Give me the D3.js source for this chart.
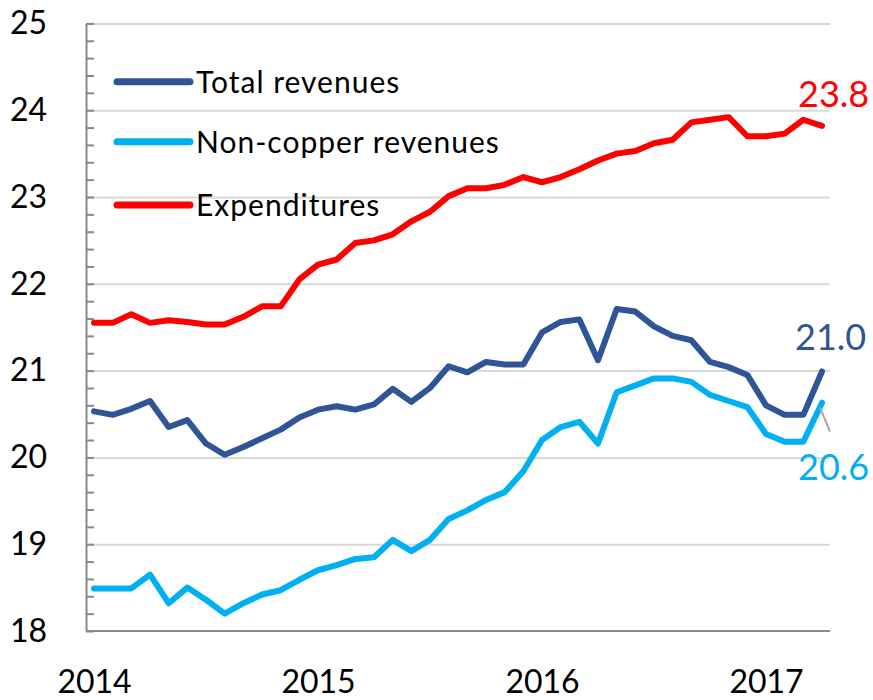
<!DOCTYPE html>
<html>
<head>
<meta charset="utf-8">
<script src="https://cdn.jsdelivr.net/npm/d3@7"></script>
<style>
  body { margin: 0; background: #fff; }
  svg text { font-family: Lato, "Open Sans", sans-serif; fill: #000; }
</style>
</head>
<body>
<div id="viz"></div>
<script>
// monthly, Jan 2014 .. Apr 2017
const months = d3.range(0, 40);
const yearLabels = ["2014", "2015", "2016", "2017"];
const yearTicks = [0, 12, 24, 36];
const yTicks = [18, 19, 20, 21, 22, 23, 24, 25];

const totalRevenues = [20.53, 20.49, 20.56, 20.65, 20.35, 20.43, 20.16, 20.03, 20.12, 20.22,
  20.32, 20.46, 20.55, 20.59, 20.55, 20.61, 20.79, 20.64, 20.80, 21.05,
  20.98, 21.10, 21.07, 21.07, 21.44, 21.56, 21.59, 21.12, 21.71, 21.68,
  21.51, 21.40, 21.35, 21.10, 21.04, 20.95, 20.60, 20.49, 20.49, 20.99];
const nonCopperRevenues = [18.49, 18.49, 18.49, 18.65, 18.32, 18.50, 18.36, 18.20, 18.32, 18.42,
  18.47, 18.59, 18.70, 18.76, 18.83, 18.85, 19.05, 18.92, 19.05, 19.29,
  19.39, 19.51, 19.60, 19.84, 20.20, 20.35, 20.41, 20.16, 20.75, 20.83,
  20.91, 20.91, 20.87, 20.72, 20.65, 20.58, 20.27, 20.18, 20.18, 20.63];
const expenditures = [21.55, 21.55, 21.65, 21.55, 21.58, 21.56, 21.53, 21.53, 21.62, 21.74,
  21.74, 22.05, 22.22, 22.28, 22.47, 22.50, 22.57, 22.72, 22.83, 23.01,
  23.10, 23.10, 23.14, 23.23, 23.17, 23.23, 23.32, 23.42, 23.50, 23.53,
  23.62, 23.66, 23.86, 23.89, 23.92, 23.70, 23.70, 23.73, 23.89, 23.82];

const seriesNames = ["Total revenues", "Non-copper revenues", "Expenditures"];
const seriesColors = ["#2f5597", "#00b0f0", "#ff0000"];
const seriesValues = [totalRevenues, nonCopperRevenues, expenditures];

const width = 873, height = 700;
const plot = {left: 86, right: 830, top: 23.4, bottom: 631};

const svg = d3.select('#viz').append('svg')
    .attr('width', width)
    .attr('height', height);

const x = d3.scaleLinear()
    .domain([0, 39])
    .range([94, 822]);

const y = d3.scaleLinear()
    .domain([18, 25])
    .range([plot.bottom, plot.top]);

// gridlines
svg.append("g")
    .attr("transform", `translate(${plot.left},0)`)
    .call(d3.axisLeft(y).tickValues(yTicks.slice(1)).tickSize(-(plot.right - plot.left)).tickFormat(""))
    .call(g => g.select(".domain").remove())
    .call(g => g.selectAll("line").attr("stroke", "#d9d9d9").attr("stroke-width", 2));

// y axis with minor ticks pointing inward
svg.append("g")
    .attr("transform", `translate(${plot.left},0)`)
    .call(d3.axisLeft(y).tickValues(d3.range(0, 36).map(i => 18 + i * 0.2)).tickSize(-8).tickSizeOuter(0).tickFormat(""))
    .call(g => g.select(".domain").attr("stroke", "#898989").attr("stroke-width", 2))
    .call(g => g.selectAll("line").attr("stroke", "#898989").attr("stroke-width", 2));

svg.append("g")
    .attr("transform", `translate(${plot.left},0)`)
    .call(d3.axisLeft(y).tickValues(yTicks).tickSize(0).tickPadding(39).tickFormat(d3.format("d")))
    .call(g => g.select(".domain").remove())
    .call(g => g.selectAll("text").attr("font-size", 32).attr("font-family", "Lato, sans-serif").attr("fill", "#000"));

// x axis
svg.append("line")
    .attr("x1", plot.left).attr("x2", plot.right)
    .attr("y1", plot.bottom).attr("y2", plot.bottom)
    .attr("stroke", "#898989").attr("stroke-width", 2);

svg.append("g")
    .attr("transform", `translate(0,${plot.bottom})`)
    .call(d3.axisBottom(x).tickValues(yearTicks).tickSize(0).tickPadding(39).tickFormat((d, i) => yearLabels[i]))
    .call(g => g.select(".domain").remove())
    .call(g => g.selectAll("text").attr("font-size", 32).attr("font-family", "Lato, sans-serif").attr("fill", "#000"));

// lines
const line = d3.line()
    .x((d, i) => x(months[i]))
    .y(d => y(d));

svg.append("g")
  .selectAll("path").data(seriesValues).enter().append("path")
    .attr("d", line)
    .attr("fill", "none")
    .attr("stroke", (d, i) => seriesColors[i])
    .attr("stroke-width", 6)
    .attr("stroke-linejoin", "round")
    .attr("stroke-linecap", "round");

// legend
const legend = svg.append("g")
  .selectAll("g").data(seriesNames).enter().append("g")
    .attr("transform", (d, i) => `translate(117,${[81.7, 141.7, 205][i]})`);

legend.append("line")
    .attr("x1", 0).attr("x2", 73)
    .attr("stroke", (d, i) => seriesColors[i])
    .attr("stroke-width", 7)
    .attr("stroke-linecap", "round");

legend.append("text")
    .attr("x", 79)
    .attr("dy", "0.36em")
    .attr("font-size", 30)
    .attr("letter-spacing", 1)
    .text(d => d);

// end labels
const last = 39;
const endLabels = [
  {v: totalRevenues[last], dx: -27, dy: -21, c: seriesColors[0]},
  {v: nonCopperRevenues[last], dx: -24, dy: 77, c: seriesColors[1]},
  {v: expenditures[last], dx: -24, dy: -19, c: seriesColors[2]}
];

svg.append("g")
  .selectAll("text").data(endLabels).enter().append("text")
    .attr("x", d => x(last) + d.dx)
    .attr("y", d => y(d.v) + d.dy)
    .attr("font-size", 36)
    .style("fill", d => d.c)
    .text(d => d3.format(".1f")(d.v));

// leader line for the non-copper label
svg.append("line")
    .attr("x1", x(last) - 2).attr("y1", y(nonCopperRevenues[last]) + 5)
    .attr("x2", x(last) + 8).attr("y2", y(nonCopperRevenues[last]) + 29)
    .attr("stroke", "#a6a6a6")
    .attr("stroke-width", 2);
</script>
</body>
</html>
